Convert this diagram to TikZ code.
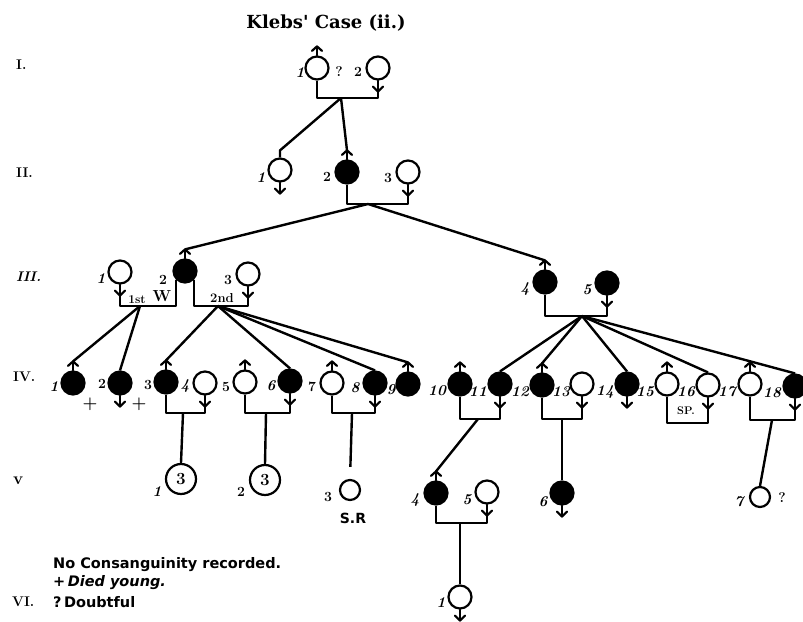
\documentclass[tikz,border=0pt]{standalone}
\usepackage{fontspec}
\newfontfamily\titlefont{DejaVu Serif}
\newfontfamily\keyfont{DejaVu Sans}
\usetikzlibrary{calc}
% sex marks: arrow above a male circle, arrowed tail below a female circle
\newcommand\malemk[1]{%
  \draw[mk] (#1.north) -- ($(#1.north)+(0,-9)$);
  \draw[mk] ($(#1.north)+(-5,-4.5)$) -- ($(#1.north)+(0,-9)$) -- ($(#1.north)+(5,-4.5)$);
  \coordinate (#1t) at ($(#1.north)+(0,-9)$);}
\newcommand\femalemk[1]{%
  \draw[mk] (#1.south) -- ($(#1.south)+(0,11)$);
  \draw[mk] ($(#1.south)+(-5,6)$) -- ($(#1.south)+(0,11)$) -- ($(#1.south)+(5,6)$);
  \coordinate (#1t) at ($(#1.south)+(0,11)$);}
\begin{document}
\begin{tikzpicture}[x=1pt,y=-1pt,
  lw/.style={line width=2.4pt, line join=round},
  person/.style={circle, draw, line width=2.2pt, minimum size=23pt, inner sep=0pt},
  aff/.style={person, fill=black},
  bigp/.style={person, minimum size=30pt, font=\fontsize{17}{17}\selectfont\bfseries},
  plain/.style={person, minimum size=20pt},
  num/.style={font=\fontsize{15}{15}\selectfont\bfseries\itshape, inner sep=0pt},
  upnum/.style={font=\fontsize{14}{14}\selectfont\bfseries, inner sep=0pt},
  cross/.style={font=\fontsize{17}{17}\selectfont\bfseries, inner sep=0pt},
  gen/.style={font=\fontsize{14}{14}\selectfont\bfseries, anchor=west, inner sep=0pt},
  note/.style={font=\fontsize{14.5}{15}\selectfont\keyfont\bfseries, anchor=west, inner sep=0pt},
  mk/.style={line width=2.2pt, line cap=round, line join=round},
]
\useasboundingbox (0,0) rectangle (803,621);

% title and generation numbers
\node[font=\fontsize{18}{20}\selectfont\titlefont\bfseries] (title) at (326,23) {Klebs' Case (ii.)};
\node[gen] (gI) at (16,65) {I.};
\node[gen] (gII) at (16,173) {II.};
\node[gen] (gIII) at (16,277) {\itshape III.};
\node[gen] (gIV) at (13,377) {IV.};
\node[gen, font=\fontsize{17}{17}\selectfont\bfseries] (gV) at (13,481) {v};

% generation I
\node[person] (I1) at (317,68) {}; \malemk{I1}
\node[person] (I2) at (378,68) {}; \femalemk{I2}
\node[num] (nI1) at (300,73) {1};
\node[upnum] (qI1) at (339,72) {?};
\node[upnum] (nI2) at (358,72) {2};

% generation II
\node[person] (II1) at (280,170) {}; \femalemk{II1}
\node[aff] (II2) at (347,172) {}; \malemk{II2}
\node[person] (II3) at (408,172) {}; \femalemk{II3}
\node[num] (nII1) at (261,178) {1};
\node[upnum] (nII2) at (327,177) {2};
\node[upnum] (nII3) at (388,178) {3};

% generation III
\node[person] (III1) at (120,272) {}; \femalemk{III1}
\node[aff] (III2) at (185,271) {}; \malemk{III2}
\node[person] (III3) at (248,274) {}; \femalemk{III3}
\node[aff] (III4) at (545,282) {}; \malemk{III4}
\node[aff] (III5) at (607,283) {}; \femalemk{III5}
\node[num] (nIII1) at (101,279) {1};
\node[upnum] (nIII2) at (163,280) {2};
\node[upnum] (nIII3) at (228,280) {3};
\node[num] (nIII4) at (525,289) {4};
\node[num] (nIII5) at (587,290) {5};
\node[font=\fontsize{12}{12}\selectfont\bfseries, inner sep=0pt] (w1) at (137,300) {1st};
\node[font=\fontsize{16}{16}\selectfont\bfseries, inner sep=0pt] (w2) at (162,296) {W};
\node[font=\fontsize{13}{13}\selectfont\bfseries, inner sep=0pt] (w3) at (222,298) {2nd};

% generation IV
\node[aff] (IV1) at (73,383) {}; \malemk{IV1}
\node[aff] (IV2) at (120,383) {}; \femalemk{IV2}
\node[aff] (IV3) at (166,382) {}; \malemk{IV3}
\node[person] (IV4) at (205,383) {}; \femalemk{IV4}
\node[person] (IV5) at (245,382) {}; \malemk{IV5}
\node[aff] (IV6) at (290,381) {}; \femalemk{IV6}
\node[person] (IV7) at (332,383) {}; \malemk{IV7}
\node[aff] (IV8) at (375,383) {}; \femalemk{IV8}
\node[aff] (IV9) at (408,384) {}; \malemk{IV9}
\node[aff] (IV10) at (460,384) {}; \malemk{IV10}
\node[aff] (IV11) at (500,384) {}; \femalemk{IV11}
\node[aff] (IV12) at (542,385) {}; \malemk{IV12}
\node[person] (IV13) at (582,384) {}; \femalemk{IV13}
\node[aff] (IV14) at (627,384) {}; \femalemk{IV14}
\node[person] (IV15) at (667,384) {}; \malemk{IV15}
\node[person] (IV16) at (708,385) {}; \femalemk{IV16}
\node[person] (IV17) at (750,384) {}; \malemk{IV17}
\node[aff] (IV18) at (795,386) {}; \femalemk{IV18}
\node[num] (nIV1) at (54,387) {1};
\node[cross] (dIV1) at (90,404) {+};
\node[upnum] (nIV2) at (102,384) {2};
\node[cross] (dIV2) at (139,404) {+};
\node[upnum] (nIV3) at (148,385) {3};
\node[num] (nIV4) at (185,386) {4};
\node[upnum] (nIV5) at (226,387) {5};
\node[num] (nIV6) at (271,386) {6};
\node[upnum] (nIV7) at (312,387) {7};
\node[num] (nIV8) at (355,388) {8};
\node[num] (nIV9) at (391,390) {9};
\node[num] (nIV10) at (437,391) {10};
\node[num] (nIV11) at (478,392) {11};
\node[num] (nIV12) at (520,392) {12};
\node[num] (nIV13) at (561,392) {13};
\node[num] (nIV14) at (605,392) {14};
\node[num] (nIV15) at (645,392) {15};
\node[num] (nIV16) at (686,392) {16};
\node[num] (nIV17) at (727,392) {17};
\node[num] (nIV18) at (772,393) {18};
\node[font=\fontsize{11}{11}\selectfont\bfseries, inner sep=0pt] (sp) at (686,411) {SP.};

% generation V
\node[bigp] (V1) at (181,479) {3};
\node[bigp] (V2) at (265,480) {3};
\node[plain] (V3) at (350,490) {};
\node[aff] (V4) at (436,493) {}; \malemk{V4}
\node[person] (V5) at (487,492) {}; \femalemk{V5}
\node[aff] (V6) at (562,493) {}; \femalemk{V6}
\node[plain] (V7) at (760,497) {};
\node[num] (nV1) at (157,492) {1};
\node[upnum] (nV2) at (241,492) {2};
\node[upnum] (nV3) at (328,497) {3};
\node[font=\fontsize{14}{14}\selectfont\keyfont\bfseries, inner sep=0pt] (srV3) at (353,518) {S.R};
\node[num] (nV4) at (415,500) {4};
\node[num] (nV5) at (467,500) {5};
\node[num] (nV6) at (543,502) {6};
\node[num] (nV7) at (739,502) {7};
\node[upnum] (qV7) at (782,498) {?};

% generation VI
\node[person] (VI1) at (460,597) {}; \femalemk{VI1}
\node[num] (nVI1) at (441,603) {1};

% key
\node[note] (k1) at (53,565) {No Consanguinity recorded.};
\node[note] (k2) at (53,583) {+\,\itshape Died young.};
\node[gen] (gVI) at (12,602) {VI.};
\node[note] (k3) at (53,602) {?\,Doubtful};

% marriage lines
\coordinate (mI) at (341,98);
\coordinate (mII) at (368,204);
\coordinate (mIIIa) at (140,306);
\coordinate (mIIIb) at (218,306);
\coordinate (mIIIc) at (582,316);
\coordinate (m34) at (183,413);
\coordinate (m56) at (266,413);
\coordinate (m78) at (352,413);
\coordinate (m1011) at (478,419);
\coordinate (m1213) at (562,419);
\coordinate (m1516) at (688,423);
\coordinate (m1718) at (772,420);
\coordinate (mV) at (460,523);

\draw[lw] (I1.south) |- (mI) -| (I2t);
\draw[lw] (II2.south) |- (mII) -| (II3t);
\draw[lw] (III1t) |- (mIIIa) -| (III2.south west);
\draw[lw] (III2.south east) |- (mIIIb) -| (III3t);
\draw[lw] (III4.south) |- (mIIIc) -| (III5t);
\draw[lw] (IV3.south) |- (m34) -| (IV4t);
\draw[lw] (IV5.south) |- (m56) -| (IV6t);
\draw[lw] (IV7.south) |- (m78) -| (IV8t);
\draw[lw] (IV10.south) |- (m1011) -| (IV11t);
\draw[lw] (IV12.south) |- (m1213) -| (IV13t);
\draw[lw] (IV15.south) |- (m1516) -| (IV16t);
\draw[lw] (IV17.south) |- (m1718) -| (IV18t);
\draw[lw] (V4.south) |- (mV) -| (V5t);

% descent lines
\draw[lw] (mI) -- ($(II1.north)+(0,-7)$) -- (II1.north);
\draw[lw] (mI) -- (II2t);
\draw[lw] (mII) -- (III2t);
\draw[lw] (mII) -- (III4t);
\draw[lw] (mIIIa) -- (IV1t);
\draw[lw] (mIIIa) -- (IV2.north);
\draw[lw] (mIIIb) -- (IV3t);
\draw[lw] (mIIIb) -- (IV6.north);
\draw[lw] (mIIIb) -- (IV8.north);
\draw[lw] (mIIIb) -- (IV9t);
\draw[lw] (mIIIc) -- (IV11.north);
\draw[lw] (mIIIc) -- (IV12t);
\draw[lw] (mIIIc) -- (IV14.north);
\draw[lw] (mIIIc) -- (IV16.north);
\draw[lw] (mIIIc) -- (IV18.north);
\draw[lw] (m34) -- (V1.north);
\draw[lw] (m56) -- (V2.north);
\draw[lw, shorten >=12pt] (m78) -- (V3.north);
\draw[lw] (m1011) -- (V4t);
\draw[lw] (m1213) -- (V6.north);
\draw[lw] (m1718) -- (V7.north);
\draw[lw] (mV) -- (VI1.north);
\end{tikzpicture}
\end{document}
